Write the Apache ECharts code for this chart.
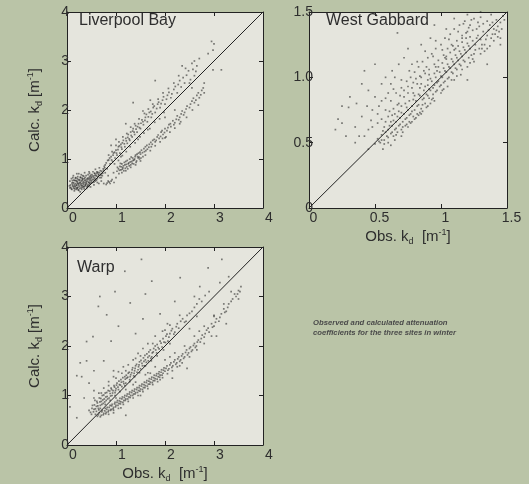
<!DOCTYPE html>
<html><head><meta charset="utf-8">
<script src="https://cdn.jsdelivr.net/npm/echarts@6/dist/echarts.min.js"></script>
<style>html,body{margin:0;padding:0;background:#bac4a7;}#c{width:529px;height:484px;}</style>
</head><body><div id="c"></div>
<script>
// ---- panel titles / text ----
const panelTitles = ['Liverpool Bay', 'West Gabbard', 'Warp'];
const captionLines = ['Observed and calculated attenuation', 'coefficients for the three sites in winter'];

// ---- tick labels ----
const lbTicksX = ['0', '1', '2', '3', '4'];
const lbTicksY = ['0', '1', '2', '3', '4'];
const wgTicksX = ['0', '0.5', '1', '1.5'];
const wgTicksY = ['0', '0.5', '1.0', '1.5'];
const wpTicksX = ['0', '1', '2', '3', '4'];
const wpTicksY = ['0', '1', '2', '3', '4'];

// ---- 1:1 reference lines ----
const lbDiagonal = [[0, 0], [4, 4]];
const wgDiagonal = [[0, 0], [1.5, 1.5]];
const wpDiagonal = [[0, 0], [4, 4]];

// ---- Liverpool Bay (obs, calc) ----
const lbCluster = [[0.08,0.42],[0.1,0.38],[0.12,0.45],[0.12,0.52],[0.14,0.4],[0.15,0.48],[0.16,0.56],[0.17,0.43],[0.18,0.5],[0.19,0.38],[0.2,0.46],[0.2,0.55],[0.21,0.6],[0.22,0.42],[0.23,0.5],[0.24,0.47],[0.25,0.56],[0.26,0.4],[0.27,0.52],[0.28,0.62],[0.29,0.45],[0.3,0.5],[0.31,0.57],[0.32,0.42],[0.33,0.54],[0.34,0.48],[0.35,0.6],[0.36,0.52],[0.37,0.45],[0.38,0.57],[0.39,0.66],[0.4,0.5],[0.41,0.55],[0.42,0.61],[0.43,0.47],[0.44,0.58],[0.45,0.53],[0.46,0.64],[0.47,0.5],[0.48,0.6],[0.5,0.56],[0.51,0.68],[0.52,0.52],[0.54,0.62],[0.55,0.58],[0.57,0.7],[0.58,0.55],[0.6,0.65],[0.62,0.6],[0.63,0.73],[0.65,0.67],[0.67,0.62],[0.68,0.76],[0.7,0.7],[0.72,0.66],[0.74,0.8],[0.06,0.55],[0.09,0.6],[0.05,0.45],[0.13,0.66],[0.24,0.7],[0.3,0.38],[0.15,0.35],[0.36,0.72],[0.44,0.44],[0.53,0.74],[0.27,0.33],[0.18,0.62],[0.4,0.4],[0.22,0.5],[0.33,0.44],[0.11,0.48],[0.26,0.58],[0.38,0.49],[0.49,0.64],[0.56,0.66],[0.61,0.71],[0.21,0.4],[0.16,0.45],[0.29,0.55]];
const lbCluster2 = [[0.07,0.47],[0.09,0.39],[0.11,0.56],[0.13,0.43],[0.14,0.51],[0.16,0.39],[0.17,0.61],[0.19,0.47],[0.2,0.41],[0.21,0.53],[0.23,0.37],[0.23,0.58],[0.25,0.44],[0.26,0.51],[0.27,0.63],[0.28,0.48],[0.29,0.41],[0.31,0.46],[0.32,0.59],[0.33,0.51],[0.34,0.65],[0.35,0.43],[0.36,0.56],[0.37,0.62],[0.38,0.47],[0.39,0.53],[0.41,0.59],[0.42,0.45],[0.43,0.68],[0.44,0.52],[0.45,0.61],[0.46,0.49],[0.47,0.57],[0.48,0.67],[0.49,0.53],[0.5,0.62],[0.52,0.58],[0.53,0.65],[0.55,0.53],[0.56,0.71],[0.57,0.61],[0.59,0.67],[0.6,0.57],[0.61,0.74],[0.63,0.64],[0.64,0.69],[0.66,0.72],[0.69,0.67],[0.71,0.75],[0.73,0.71],[0.75,0.77],[0.77,0.82],[0.12,0.62],[0.18,0.56],[0.22,0.64],[0.29,0.68],[0.35,0.39],[0.41,0.43],[0.24,0.36],[0.31,0.61],[0.14,0.57],[0.1,0.51],[0.06,0.41],[0.2,0.7],[0.46,0.71]];
const lbUpper = [[0.76,0.85],[0.8,0.92],[0.82,0.8],[0.85,0.98],[0.88,0.9],[0.9,1.05],[0.93,0.95],[0.95,1.12],[0.98,1.02],[1.0,1.18],[1.02,1.08],[1.05,1.25],[1.08,1.12],[1.1,1.3],[1.12,1.2],[1.15,1.38],[1.18,1.25],[1.2,1.42],[1.23,1.32],[1.25,1.5],[1.28,1.38],[1.3,1.55],[1.33,1.45],[1.35,1.62],[1.38,1.5],[1.4,1.68],[1.43,1.55],[1.46,1.72],[1.5,1.62],[1.53,1.8],[1.56,1.7],[1.6,1.85],[1.64,1.76],[1.68,1.95],[1.72,1.85],[1.76,2.05],[1.8,1.95],[1.85,2.12],[1.9,2.05],[1.95,2.2],[2.0,2.12],[2.05,2.3],[2.12,2.25],[2.18,2.42],[2.25,2.35],[2.3,2.6],[2.4,2.55],[2.48,2.8],[2.55,2.95],[2.6,3.0],[2.65,2.9],[2.7,3.05],[2.95,3.4],[3.0,3.35],[2.98,3.22],[2.88,3.15]];
const lbUpper2 = [[0.78,0.88],[0.83,0.97],[0.87,1.02],[0.91,0.98],[0.94,1.08],[0.97,1.14],[1.01,1.12],[1.04,1.19],[1.07,1.27],[1.11,1.24],[1.13,1.33],[1.17,1.31],[1.21,1.37],[1.24,1.44],[1.27,1.41],[1.31,1.48],[1.34,1.57],[1.37,1.55],[1.41,1.61],[1.44,1.66],[1.48,1.64],[1.51,1.73],[1.55,1.76],[1.59,1.79],[1.62,1.91],[1.66,1.86],[1.71,1.97],[1.74,1.92],[1.78,2.08],[1.83,2.03],[1.87,2.16],[1.92,2.13],[1.97,2.27],[2.03,2.22],[2.08,2.36],[2.14,2.33],[2.21,2.48],[2.27,2.52],[2.33,2.47],[2.37,2.66],[2.44,2.71],[2.52,2.62],[2.57,2.83],[2.63,2.79]];
const lbLower = [[0.75,0.5],[0.8,0.48],[0.84,0.55],[0.88,0.5],[0.92,0.58],[0.96,0.52],[1.0,0.62],[1.02,0.75],[1.05,0.8],[1.06,0.7],[1.08,0.85],[1.1,0.78],[1.12,0.9],[1.14,0.82],[1.16,0.76],[1.18,0.88],[1.2,0.95],[1.22,0.84],[1.24,0.8],[1.26,0.92],[1.28,1.0],[1.3,0.88],[1.32,0.95],[1.34,1.02],[1.36,0.9],[1.38,1.0],[1.4,1.08],[1.42,0.96],[1.44,1.05],[1.46,1.12],[1.48,1.0],[1.5,1.1],[1.52,1.18],[1.55,1.05],[1.58,1.15],[1.6,1.25],[1.64,1.2],[1.68,1.3],[1.72,1.25],[1.75,1.38],[1.8,1.35],[1.84,1.45],[1.88,1.42],[1.92,1.55],[1.96,1.5],[2.0,1.62],[2.04,1.58],[2.08,1.7],[2.12,1.66],[2.16,1.78],[2.2,1.74],[2.25,1.88],[2.3,1.85],[2.35,1.98],[2.4,1.95],[2.45,2.08],[2.5,2.05],[2.55,2.18],[2.6,2.15],[2.65,2.3],[2.7,2.25],[2.75,2.4],[2.8,2.35],[2.02,1.45],[1.95,1.42],[2.3,1.72],[1.15,0.86],[1.25,0.9],[1.35,0.97],[1.45,1.02]];
const lbLower2 = [[1.03,0.83],[1.07,0.77],[1.09,0.91],[1.11,0.84],[1.13,0.79],[1.17,0.93],[1.19,0.81],[1.21,0.89],[1.23,0.97],[1.27,0.86],[1.29,0.94],[1.31,1.04],[1.33,0.91],[1.37,0.98],[1.39,1.05],[1.41,0.93],[1.43,1.1],[1.47,1.04],[1.49,1.14],[1.51,1.02],[1.54,1.13],[1.57,1.21],[1.61,1.17],[1.63,1.28],[1.67,1.24],[1.71,1.34],[1.74,1.3],[1.78,1.4],[1.82,1.38],[1.86,1.49],[1.91,1.46],[1.94,1.58],[1.99,1.54],[2.06,1.64],[2.11,1.72],[2.18,1.7],[2.23,1.81],[2.28,1.8],[2.33,1.92],[2.38,1.9],[2.43,2.02],[2.52,2.12],[2.58,2.24],[2.63,2.2],[2.68,2.35],[2.73,2.31],[2.78,2.45],[0.86,0.53],[0.9,0.55],[0.82,0.51]];
const lbSpread = [[0.85,1.08],[0.92,1.15],[1.0,1.28],[1.06,1.35],[1.14,1.45],[1.22,1.52],[1.3,1.65],[1.38,1.72],[1.47,1.82],[1.58,1.93],[1.66,2.02],[1.75,2.12],[1.86,2.22],[1.96,2.35],[2.07,2.44],[2.18,2.55],[2.28,2.7],[2.42,2.85],[0.97,0.9],[1.05,0.97],[1.13,1.07],[1.21,1.15],[1.29,1.25],[1.39,1.33],[1.49,1.45],[1.57,1.53],[1.69,1.62],[1.79,1.75],[1.89,1.82],[1.98,1.95],[1.12,0.72],[1.2,0.76],[1.3,0.83],[1.4,0.88],[1.5,0.96],[1.6,1.08],[1.7,1.17],[1.8,1.27],[1.9,1.35],[2.0,1.43],[2.1,1.55],[2.2,1.63],[2.32,1.76],[2.44,1.85],[2.56,2.0],[2.68,2.1],[0.58,0.79],[0.66,0.82],[0.45,0.74],[0.32,0.66],[0.62,0.52],[0.55,0.47],[0.48,0.43],[0.7,0.62],[0.78,0.72],[0.84,0.66]];
const lbOutliers = [[1.8,2.6],[1.35,2.15],[1.2,1.72],[2.98,2.82],[3.15,2.82],[2.5,2.55],[1.0,1.4],[0.9,1.28],[1.55,1.98],[1.7,2.2],[2.55,2.45],[2.2,2.0],[2.0,1.85],[1.45,1.4],[1.65,1.6],[1.1,1.05],[2.35,2.9],[2.6,2.7],[2.8,2.55],[0.95,0.72],[0.65,0.5],[0.7,0.55]];

// ---- West Gabbard (obs, calc) ----
const wgLower = [[0.5,0.49],[0.52,0.53],[0.54,0.5],[0.55,0.56],[0.57,0.52],[0.58,0.58],[0.6,0.54],[0.6,0.6],[0.62,0.57],[0.63,0.63],[0.64,0.55],[0.65,0.6],[0.66,0.66],[0.67,0.58],[0.68,0.63],[0.69,0.69],[0.7,0.6],[0.71,0.66],[0.72,0.72],[0.73,0.63],[0.74,0.69],[0.75,0.75],[0.76,0.66],[0.77,0.72],[0.78,0.78],[0.79,0.7],[0.8,0.75],[0.81,0.82],[0.82,0.72],[0.83,0.79],[0.84,0.86],[0.85,0.76],[0.86,0.83],[0.87,0.9],[0.88,0.8],[0.89,0.87],[0.9,0.94],[0.91,0.84],[0.92,0.9],[0.93,0.97],[0.94,0.87],[0.95,0.94],[0.96,1.0],[0.97,0.9],[0.98,0.97],[0.99,1.04],[1.0,0.94],[1.01,1.0],[1.02,1.07],[1.03,0.97],[1.04,1.04],[1.05,1.1],[1.06,1.0],[1.07,1.07],[1.08,1.14],[1.09,1.03],[1.1,1.1],[1.11,1.17],[1.12,1.06],[1.13,1.13],[1.14,1.2],[1.15,1.09],[1.16,1.16],[1.17,1.23],[1.18,1.12],[1.19,1.19],[1.2,1.26],[1.21,1.15],[1.22,1.22],[1.24,1.28],[1.25,1.18],[1.26,1.25],[1.28,1.32],[1.29,1.22],[1.3,1.29],[1.32,1.35],[1.33,1.25],[1.35,1.32],[1.37,1.4],[1.38,1.3],[1.4,1.37],[1.42,1.44],[1.44,1.35],[1.45,1.42],[1.47,1.47],[0.7,0.55],[0.8,0.68],[0.9,0.78],[1.0,0.88],[1.1,0.98],[1.2,1.08],[1.3,1.18],[1.4,1.28],[0.6,0.5],[0.65,0.52],[1.15,1.02],[1.25,1.12],[1.35,1.22],[1.45,1.3],[0.95,0.82],[0.85,0.72],[0.75,0.62],[1.05,0.93],[0.56,0.45],[0.62,0.48]];
const wgUpper = [[0.55,0.68],[0.58,0.75],[0.6,0.7],[0.62,0.82],[0.64,0.76],[0.66,0.88],[0.68,0.8],[0.7,0.92],[0.72,0.85],[0.74,0.97],[0.75,0.88],[0.77,1.0],[0.78,0.92],[0.8,1.04],[0.82,0.95],[0.83,1.08],[0.85,1.0],[0.86,1.12],[0.88,1.03],[0.9,1.15],[0.91,1.06],[0.93,1.18],[0.95,1.1],[0.96,1.22],[0.98,1.13],[1.0,1.25],[1.02,1.17],[1.03,1.3],[1.05,1.22],[1.07,1.33],[1.08,1.25],[1.1,1.37],[1.12,1.28],[1.14,1.4],[1.16,1.32],[1.18,1.43],[1.2,1.35],[1.22,1.4],[1.25,1.45],[1.28,1.42],[1.3,1.46],[0.7,0.78],[0.76,0.82],[0.84,0.92],[0.9,0.98],[0.97,1.05],[1.04,1.14],[1.11,1.22],[1.19,1.3],[1.27,1.37],[1.35,1.43],[0.65,0.72],[0.8,0.86]];
const wgCloud = [[0.53,0.51],[0.56,0.59],[0.59,0.55],[0.61,0.63],[0.63,0.58],[0.64,0.67],[0.66,0.61],[0.67,0.7],[0.69,0.64],[0.7,0.73],[0.71,0.62],[0.73,0.68],[0.74,0.77],[0.76,0.71],[0.77,0.65],[0.78,0.74],[0.79,0.83],[0.81,0.69],[0.82,0.78],[0.83,0.87],[0.84,0.73],[0.86,0.79],[0.87,0.84],[0.88,0.93],[0.89,0.77],[0.9,0.86],[0.91,0.91],[0.92,0.99],[0.93,0.83],[0.94,0.92],[0.95,1.03],[0.96,0.89],[0.97,0.96],[0.98,1.08],[0.99,0.93],[1.0,1.01],[1.01,1.11],[1.02,0.96],[1.03,1.05],[1.04,1.16],[1.05,0.99],[1.06,1.08],[1.07,1.19],[1.08,1.04],[1.09,1.12],[1.1,1.21],[1.11,1.07],[1.12,1.15],[1.13,1.24],[1.14,1.1],[1.15,1.18],[1.16,1.27],[1.17,1.13],[1.18,1.21],[1.19,1.34],[1.21,1.24],[1.22,1.31],[1.23,1.17],[1.24,1.36],[1.26,1.21],[1.27,1.3],[1.29,1.39],[1.31,1.25],[1.32,1.41],[1.34,1.29],[1.36,1.36],[1.37,1.24],[1.39,1.42],[1.41,1.33],[1.43,1.39],[1.46,1.37],[1.48,1.44],[0.61,0.74],[0.67,0.79],[0.72,0.9],[0.79,0.96],[0.84,1.01],[0.89,1.08],[0.94,1.16],[1.01,1.21],[1.06,1.29],[1.13,1.35],[1.17,1.41],[1.23,1.44],[0.58,0.66],[0.63,0.71],[0.69,0.86],[0.75,0.93],[0.81,0.99],[0.87,1.05],[0.57,0.49],[0.66,0.56],[0.74,0.64],[0.83,0.71],[0.92,0.8],[1.02,0.91],[1.12,1.01],[1.22,1.11],[1.33,1.2],[1.43,1.31]];
const wgSpread = [[0.55,0.52],[0.62,0.66],[0.68,0.74],[0.73,0.8],[0.79,0.88],[0.85,0.95],[0.91,1.02],[0.96,1.08],[1.03,1.15],[1.09,1.24],[1.16,1.3],[1.21,1.38],[0.71,0.58],[0.78,0.66],[0.86,0.74],[0.94,0.84],[1.01,0.9],[1.08,0.98],[1.16,1.06],[1.24,1.14],[1.31,1.22],[1.39,1.33],[0.48,0.62],[0.52,0.72],[0.58,0.84],[0.64,0.91],[0.7,0.98],[0.76,1.05],[0.82,1.12],[0.88,1.2],[0.96,1.28],[1.04,1.37]];
const wgOutliers = [[0.2,0.6],[0.22,0.68],[0.25,0.65],[0.28,0.55],[0.3,0.77],[0.31,0.85],[0.35,0.62],[0.36,0.8],[0.35,0.5],[0.38,0.55],[0.4,0.7],[0.4,0.95],[0.42,1.05],[0.44,0.78],[0.45,0.9],[0.45,0.6],[0.47,0.67],[0.48,0.75],[0.5,0.85],[0.5,1.1],[0.52,0.65],[0.53,0.78],[0.55,0.95],[0.55,0.82],[0.57,0.62],[0.58,1.0],[0.6,0.88],[0.62,0.95],[0.63,1.05],[0.67,1.34],[0.65,1.0],[0.68,1.1],[0.72,1.15],[0.75,1.22],[0.78,1.1],[0.85,1.25],[0.92,1.3],[0.95,1.4],[1.1,1.45],[1.2,1.48],[1.3,1.5],[1.38,1.48],[1.42,1.36],[1.45,1.25],[1.35,1.1],[1.2,0.98],[0.45,0.45],[0.42,0.55],[0.25,0.78]];

// ---- Warp (obs, calc) ----
const wpUpper = [[0.45,0.7],[0.5,0.62],[0.52,0.8],[0.55,0.72],[0.57,0.9],[0.6,0.68],[0.6,0.78],[0.62,0.85],[0.64,0.74],[0.66,0.95],[0.68,0.8],[0.7,0.88],[0.72,1.0],[0.74,0.84],[0.76,0.93],[0.78,1.05],[0.8,0.9],[0.82,0.98],[0.84,1.1],[0.86,0.95],[0.88,1.04],[0.9,1.15],[0.92,1.0],[0.94,1.1],[0.96,1.2],[0.98,1.06],[1.0,1.14],[1.02,1.25],[1.05,1.12],[1.07,1.22],[1.1,1.32],[1.12,1.18],[1.15,1.28],[1.18,1.38],[1.2,1.25],[1.22,1.35],[1.25,1.45],[1.28,1.32],[1.3,1.42],[1.33,1.52],[1.36,1.4],[1.38,1.5],[1.4,1.6],[1.43,1.47],[1.46,1.58],[1.48,1.68],[1.5,1.54],[1.53,1.65],[1.56,1.76],[1.58,1.6],[1.6,1.72],[1.63,1.84],[1.66,1.7],[1.68,1.8],[1.7,1.92],[1.73,1.78],[1.76,1.88],[1.8,2.0],[1.83,1.86],[1.86,1.97],[1.9,2.1],[1.94,1.98],[1.98,2.08],[2.02,2.2],[2.06,2.1],[2.1,2.25],[2.15,2.35],[2.2,2.28],[2.25,2.45],[2.32,2.5],[2.4,2.48],[2.45,2.62],[2.55,2.7],[2.65,2.85],[2.75,2.9],[1.0,1.35],[1.2,1.5],[0.85,1.2],[1.5,1.8],[1.4,1.75],[0.7,1.05],[1.75,2.05],[2.0,2.32],[1.12,1.45]];
const wpUpper2 = [[0.48,0.66],[0.51,0.74],[0.54,0.67],[0.56,0.81],[0.58,0.73],[0.61,0.88],[0.63,0.79],[0.65,0.71],[0.67,0.87],[0.69,0.94],[0.71,0.82],[0.73,0.91],[0.75,1.01],[0.77,0.87],[0.79,0.97],[0.81,1.06],[0.83,0.93],[0.87,1.09],[0.89,0.99],[0.91,1.12],[0.93,1.05],[0.97,1.17],[0.99,1.1],[1.01,1.21],[1.04,1.17],[1.06,1.29],[1.09,1.21],[1.11,1.27],[1.14,1.36],[1.16,1.24],[1.19,1.33],[1.21,1.41],[1.24,1.37],[1.27,1.47],[1.29,1.38],[1.32,1.46],[1.34,1.56],[1.37,1.45],[1.39,1.55],[1.42,1.63],[1.45,1.52],[1.47,1.62],[1.51,1.71],[1.54,1.6],[1.57,1.69],[1.59,1.81],[1.62,1.67],[1.65,1.77],[1.67,1.88],[1.71,1.75],[1.74,1.86],[1.77,1.95],[1.81,1.92],[1.84,2.03],[1.88,1.94],[1.92,2.06],[1.96,2.15],[2.01,2.07],[2.04,2.24],[2.08,2.18],[2.13,2.31],[2.18,2.24],[2.23,2.39],[2.28,2.36],[2.36,2.55],[2.43,2.5],[2.5,2.66],[2.6,2.78],[2.7,2.95],[2.82,3.02]];
const wpLower = [[0.62,0.58],[0.66,0.65],[0.7,0.6],[0.72,0.7],[0.75,0.64],[0.78,0.74],[0.8,0.66],[0.82,0.76],[0.85,0.7],[0.88,0.8],[0.9,0.72],[0.92,0.82],[0.95,0.76],[0.98,0.86],[1.0,0.8],[1.03,0.9],[1.06,0.84],[1.08,0.94],[1.1,0.87],[1.13,0.97],[1.16,0.9],[1.18,1.0],[1.2,0.93],[1.23,1.03],[1.26,0.97],[1.28,1.07],[1.3,1.0],[1.33,1.1],[1.36,1.03],[1.38,1.13],[1.4,1.06],[1.43,1.16],[1.46,1.1],[1.48,1.2],[1.5,1.13],[1.53,1.23],[1.56,1.16],[1.58,1.27],[1.6,1.2],[1.63,1.3],[1.66,1.23],[1.68,1.34],[1.7,1.27],[1.73,1.37],[1.76,1.3],[1.78,1.41],[1.8,1.34],[1.83,1.44],[1.86,1.38],[1.88,1.48],[1.9,1.41],[1.93,1.52],[1.96,1.45],[1.98,1.56],[2.0,1.49],[2.04,1.6],[2.08,1.54],[2.12,1.66],[2.16,1.6],[2.2,1.72],[2.24,1.66],[2.28,1.78],[2.32,1.72],[2.36,1.84],[2.4,1.78],[2.44,1.92],[2.48,1.86],[2.52,1.98],[2.56,1.92],[2.6,2.05],[2.64,2.0],[2.68,2.12],[2.72,2.08],[2.76,2.22],[2.8,2.18],[2.85,2.32],[2.9,2.28],[2.95,2.45],[3.0,2.4],[3.05,2.55],[3.1,2.5],[3.15,2.65],[3.2,2.75],[3.25,2.7],[3.3,2.85],[3.38,2.95],[3.42,3.05],[3.45,3.0],[3.5,3.12],[3.55,3.2],[1.1,0.75],[1.5,1.0],[1.9,1.32],[2.3,1.6],[2.1,1.78],[1.7,1.45],[0.95,0.65],[2.7,2.3],[3.0,2.6],[1.35,1.22]];
const wpLower2 = [[0.64,0.61],[0.68,0.57],[0.71,0.67],[0.74,0.61],[0.77,0.69],[0.79,0.63],[0.81,0.72],[0.84,0.67],[0.86,0.76],[0.89,0.7],[0.91,0.79],[0.94,0.73],[0.97,0.83],[0.99,0.77],[1.02,0.86],[1.04,0.8],[1.07,0.89],[1.09,0.83],[1.12,0.93],[1.14,0.86],[1.17,0.96],[1.19,0.9],[1.22,0.99],[1.24,0.93],[1.27,1.03],[1.29,0.96],[1.32,1.06],[1.34,1.0],[1.37,1.09],[1.39,1.03],[1.42,1.12],[1.44,1.06],[1.47,1.16],[1.49,1.09],[1.52,1.19],[1.54,1.12],[1.57,1.22],[1.59,1.16],[1.62,1.26],[1.64,1.19],[1.67,1.29],[1.69,1.23],[1.72,1.33],[1.74,1.26],[1.77,1.36],[1.79,1.3],[1.82,1.4],[1.84,1.33],[1.87,1.44],[1.89,1.37],[1.92,1.47],[1.94,1.41],[1.97,1.51],[2.02,1.55],[2.06,1.51],[2.1,1.62],[2.14,1.57],[2.18,1.68],[2.22,1.63],[2.26,1.74],[2.3,1.69],[2.34,1.8],[2.38,1.75],[2.42,1.87],[2.46,1.82],[2.5,1.95],[2.54,1.89],[2.58,2.01],[2.62,1.97],[2.66,2.08],[2.74,2.15],[2.82,2.25],[2.88,2.36],[2.97,2.38],[3.03,2.48],[3.12,2.58],[3.22,2.68],[3.28,2.78],[3.35,2.9],[3.48,3.05]];
const wpSpread = [[0.55,0.95],[0.65,1.05],[0.75,1.15],[0.85,1.28],[0.95,1.38],[1.05,1.48],[1.15,1.58],[1.25,1.62],[1.35,1.72],[1.45,1.85],[1.55,1.95],[1.65,2.05],[1.8,2.2],[1.95,2.3],[2.1,2.42],[2.3,2.62],[0.58,0.62],[0.68,0.74],[0.78,0.82],[0.88,0.9],[0.98,1.0],[1.08,1.08],[1.18,1.2],[1.28,1.28],[1.38,1.38],[1.48,1.46],[1.6,1.6],[1.72,1.7],[1.84,1.8],[1.97,1.92],[0.85,0.62],[0.95,0.7],[1.05,0.74],[1.15,0.82],[1.25,0.88],[1.35,0.95],[1.45,1.0],[1.55,1.08],[1.65,1.14],[1.75,1.22],[1.85,1.28],[1.95,1.36],[2.05,1.44],[2.15,1.5],[2.25,1.58],[2.35,1.66],[2.5,1.78],[2.65,1.92],[2.8,2.05],[2.95,2.2],[1.0,0.95],[1.2,1.12],[1.4,1.27],[1.6,1.42],[1.8,1.58],[2.0,1.72],[2.2,1.86],[2.4,2.0],[2.6,2.2],[2.8,2.4],[3.0,2.62],[3.2,2.85]];
const wpOutliers = [[0.27,1.66],[0.3,1.38],[0.06,0.77],[0.64,2.8],[0.81,2.63],[0.67,3.0],[1.18,3.51],[1.52,3.75],[1.73,3.31],[2.31,3.38],[2.71,3.2],[2.88,3.58],[3.16,3.75],[3.12,3.28],[3.53,3.1],[1.29,2.87],[0.4,2.09],[0.53,2.19],[0.98,3.1],[1.65,1.46],[0.35,0.95],[0.2,0.55],[0.45,1.25],[0.55,1.5],[0.75,1.7],[0.9,2.1],[1.05,2.4],[1.4,2.25],[1.55,2.55],[1.9,2.65],[2.05,2.45],[2.2,2.9],[2.5,2.35],[2.6,3.0],[2.9,3.1],[3.3,3.4],[3.25,2.45],[3.05,2.2],[2.45,1.55],[2.15,1.35],[1.2,0.6],[0.55,1.1],[0.4,1.7],[0.2,1.4],[0.95,1.5],[1.6,3.05],[2.1,2.05],[2.65,2.6],[3.35,3.1],[3.5,2.95]];

// ---------------- chart ----------------
const FONT = 'Liberation Sans';
const TXT = '#2e2e2e';
const PLOTBG = '#e5e5dd';
const grids = [
  { left: 67, top: 12, width: 196, height: 196 },
  { left: 309, top: 12, width: 198, height: 196 },
  { left: 67, top: 247, width: 196, height: 198 }
];
const nameRich = {
  n: { fontFamily: FONT, fontSize: 15, color: TXT, lineHeight: 18 },
  sub: { fontFamily: FONT, fontSize: 9, color: TXT, lineHeight: 9, verticalAlign: 'bottom' },
  sup: { fontFamily: FONT, fontSize: 9, color: TXT, lineHeight: 9, verticalAlign: 'top' }
};
const calcName = '{n|Calc. k}{sub|d}{n| [m}{sup|-1}{n|]}';
const obsName = '{n|Obs. k}{sub|d}{n|  [m}{sup|-1}{n|]}';

function fmt(labels, step) {
  return v => { const i = Math.round(v / step); return labels[i] !== undefined ? labels[i] : ''; };
}
function mainX(gi, max, step, labels, name, shift, gap) {
  return {
    type: 'value', gridIndex: gi, min: 0, max: max, interval: step, position: 'bottom',
    axisLine: { show: true, onZero: false, lineStyle: { color: '#222', width: 1 } },
    axisTick: { show: true, inside: true, length: 4, lineStyle: { color: '#222' } },
    splitLine: { show: false },
    axisLabel: { show: true, formatter: fmt(labels, step), fontFamily: FONT, fontSize: 14, color: TXT, margin: 3, padding: [0, 0, 0, shift] },
    name: name || '', nameLocation: 'middle', nameGap: gap || 20,
    nameTextStyle: { rich: nameRich }
  };
}
function mainY(gi, max, step, labels, name, margin, gap) {
  return {
    type: 'value', gridIndex: gi, min: 0, max: max, interval: step, position: 'left',
    axisLine: { show: true, onZero: false, lineStyle: { color: '#222', width: 1 } },
    axisTick: { show: true, inside: true, length: 4, lineStyle: { color: '#222' } },
    splitLine: { show: false },
    axisLabel: { show: true, formatter: fmt(labels, step), fontFamily: FONT, fontSize: 14, color: TXT, margin: margin },
    name: name || '', nameLocation: 'middle', nameGap: gap || 23, nameRotate: 90,
    nameTextStyle: { rich: nameRich }
  };
}
function mirrorX(gi, max, step) {
  return { type: 'value', gridIndex: gi, min: 0, max: max, interval: step, position: 'top',
    axisLine: { show: true, onZero: false, lineStyle: { color: '#222', width: 1 } },
    axisTick: { show: true, inside: true, length: 4, lineStyle: { color: '#222' } },
    axisLabel: { show: false }, splitLine: { show: false } };
}
function mirrorY(gi, max, step) {
  return { type: 'value', gridIndex: gi, min: 0, max: max, interval: step, position: 'right',
    axisLine: { show: true, onZero: false, lineStyle: { color: '#222', width: 1 } },
    axisTick: { show: true, inside: true, length: 4, lineStyle: { color: '#222' } },
    axisLabel: { show: false }, splitLine: { show: false } };
}
const ptStyle = { color: 'rgba(25,25,25,0.68)' };
function scat(xi, yi, data) {
  return { type: 'scatter', xAxisIndex: xi, yAxisIndex: yi, data: data, symbol: 'rect', symbolSize: 1.7,
    itemStyle: ptStyle, silent: true, animation: false };
}
function diag(xi, yi, data) {
  return { type: 'line', xAxisIndex: xi, yAxisIndex: yi, data: data, symbol: 'none', silent: true, animation: false,
    lineStyle: { color: '#222', width: 1 }, z: 3 };
}

const option = {
  backgroundColor: '#bac4a7',
  animation: false,
  grid: grids.map(g => Object.assign({ show: true, backgroundColor: PLOTBG, borderWidth: 0 }, g)),
  xAxis: [
    mainX(0, 4, 1, lbTicksX, '', 12),
    mainX(1, 1.5, 0.5, wgTicksX, obsName, 9, 20),
    mainX(2, 4, 1, wpTicksX, obsName, 12, 20),
    mirrorX(0, 4, 1), mirrorX(1, 1.5, 0.5), mirrorX(2, 4, 1)
  ],
  yAxis: [
    mainY(0, 4, 1, lbTicksY, calcName, -2, 23),
    mainY(1, 1.5, 0.5, wgTicksY, '', -4),
    mainY(2, 4, 1, wpTicksY, calcName, -2, 23),
    mirrorY(0, 4, 1), mirrorY(1, 1.5, 0.5), mirrorY(2, 4, 1)
  ],
  series: [
    scat(0, 0, lbCluster), scat(0, 0, lbCluster2), scat(0, 0, lbUpper), scat(0, 0, lbUpper2),
    scat(0, 0, lbLower), scat(0, 0, lbLower2), scat(0, 0, lbSpread), scat(0, 0, lbOutliers),
    diag(0, 0, lbDiagonal),
    scat(1, 1, wgLower), scat(1, 1, wgUpper), scat(1, 1, wgCloud), scat(1, 1, wgSpread), scat(1, 1, wgOutliers),
    diag(1, 1, wgDiagonal),
    scat(2, 2, wpUpper), scat(2, 2, wpUpper2), scat(2, 2, wpLower), scat(2, 2, wpLower2), scat(2, 2, wpSpread), scat(2, 2, wpOutliers),
    diag(2, 2, wpDiagonal)
  ],
  graphic: [
    { type: 'text', left: 79, top: 13, z: 10, style: { text: panelTitles[0], font: '16px "Liberation Sans"', fill: TXT } },
    { type: 'text', left: 326, top: 13, z: 10, style: { text: panelTitles[1], font: '16px "Liberation Sans"', fill: TXT } },
    { type: 'text', left: 77, top: 260, z: 10, style: { text: panelTitles[2], font: '16px "Liberation Sans"', fill: TXT } },
    { type: 'text', left: 313, top: 318, z: 10, style: { text: captionLines.join('\n'), font: 'italic bold 7.7px "Liberation Sans"', fill: '#4a4a4a', lineHeight: 10 } }
  ]
};
const chart = echarts.init(document.getElementById('c'), null, { renderer: 'canvas' });
chart.setOption(option);
</script>
</body></html>
